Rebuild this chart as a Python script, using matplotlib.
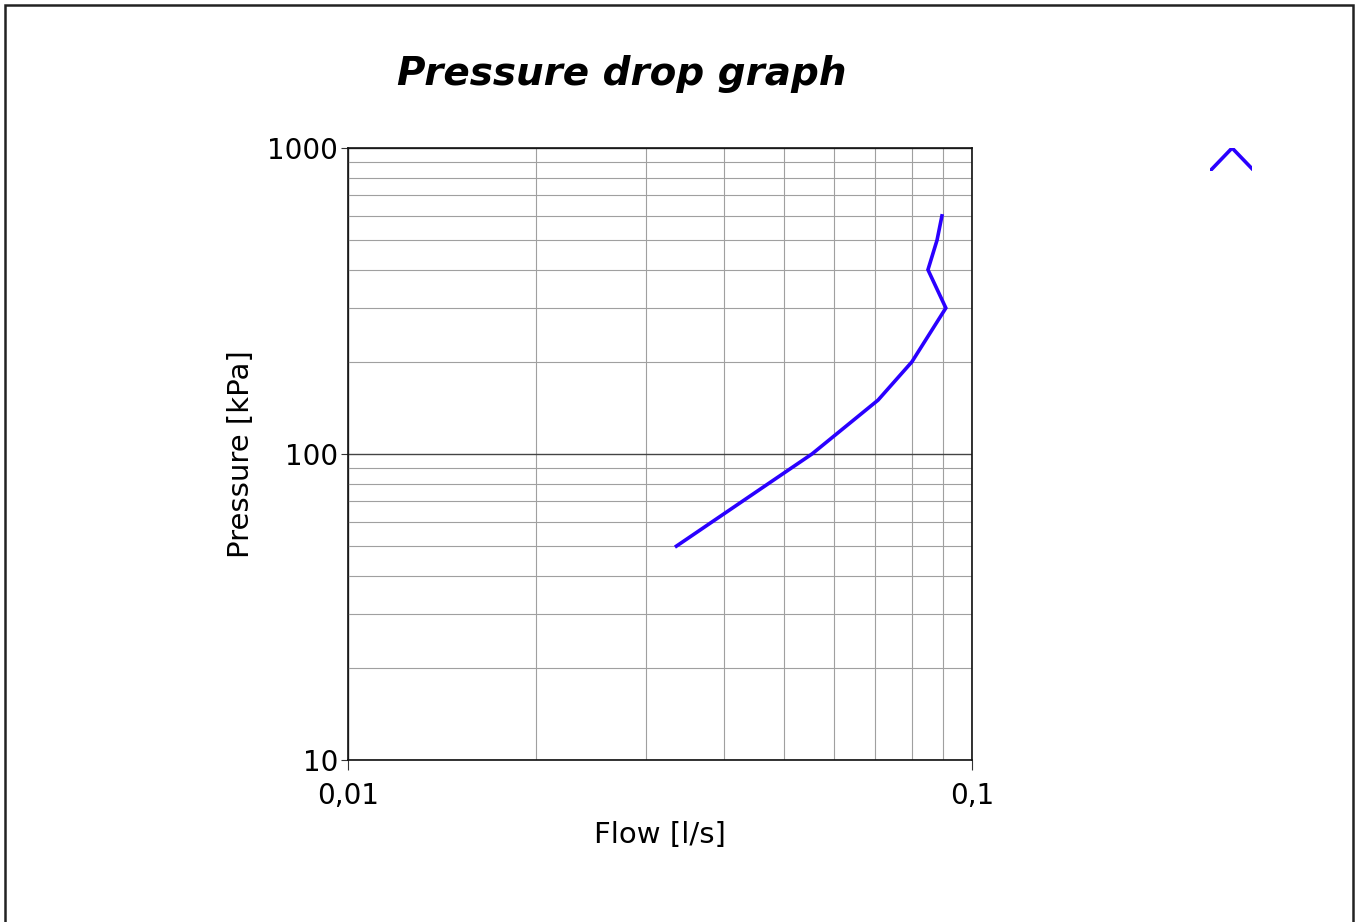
import matplotlib.pyplot as plt
import matplotlib.ticker as mticker
from matplotlib.patches import Rectangle

# Flow [l/s] vs pressure drop [kPa]
flow = [0.0336, 0.0554, 0.0707, 0.0801, 0.0908, 0.0850, 0.0879, 0.0895]
pressure = [50, 100, 150, 200, 300, 400, 500, 600]

x_ticks = [0.01, 0.1]
x_labels = ['0,01', '0,1']
y_ticks = [10, 100, 1000]
y_labels = ['10', '100', '1000']

# little legend glyph in the top right corner
legend_x = [0, 1, 1.9]
legend_y = [0, 1, 0.1]

line_color = '#2a00ff'

fig = plt.figure(figsize=(13.57, 9.22), dpi=100)
plt.rcParams['font.family'] = ['DejaVu Sans']

# axes box: x 348..972 px, y 148..760 px
W, H = 1357, 922
ax = fig.add_axes([348 / W, 1 - 760 / H, (972 - 348) / W, (760 - 148) / H])
ax.set_xscale('log')
ax.set_yscale('log')
ax.set_xlim(0.01, 0.1)
ax.set_ylim(10, 1000)

ax.plot(flow, pressure, color=line_color, linewidth=2.6, solid_joinstyle='miter')

ax.xaxis.set_major_locator(mticker.FixedLocator(x_ticks))
ax.xaxis.set_major_formatter(mticker.FixedFormatter(x_labels))
ax.yaxis.set_major_locator(mticker.FixedLocator(y_ticks))
ax.yaxis.set_major_formatter(mticker.FixedFormatter(y_labels))
ax.xaxis.set_minor_locator(mticker.LogLocator(base=10, subs=range(2, 10)))
ax.yaxis.set_minor_locator(mticker.LogLocator(base=10, subs=range(2, 10)))
ax.xaxis.set_minor_formatter(mticker.NullFormatter())
ax.yaxis.set_minor_formatter(mticker.NullFormatter())

ax.grid(which='major', color='#444444', linewidth=1.0)
ax.grid(which='minor', color='#a0a0a0', linewidth=0.8)
ax.set_axisbelow(True)

ax.tick_params(which='major', direction='out', length=5, width=0.8, color='#333333',
               labelsize=20)
ax.tick_params(axis='y', which='major', pad=2)
ax.tick_params(axis='x', which='major', length=7, pad=9)
ax.tick_params(which='minor', length=0)
for s in ax.spines.values():
    s.set_color('#111111')
    s.set_linewidth(1.2)

ax.set_xlabel('Flow [l/s]', fontsize=21, labelpad=8)
ax.set_ylabel('Pressure [kPa]', fontsize=21, labelpad=9)

fig.text(622 / W, 1 - 74 / H, 'Pressure drop graph', ha='center', va='center',
         fontsize=28, fontweight='bold', fontstyle='italic')

# legend glyph
lax = fig.add_axes([1210 / W, 1 - 171 / H, 42 / W, 23 / H])
lax.plot(legend_x, legend_y, color=line_color, linewidth=2.6)
lax.set_xlim(0, 1.9)
lax.set_ylim(0, 1)
lax.axis('off')

# outer frame (bottom edge falls outside the picture)
fig.add_artist(Rectangle((5 / W, -0.02), (1353 - 5) / W, 1.02 - 5 / H,
                         transform=fig.transFigure, fill=False,
                         edgecolor='#222222', linewidth=1.8))

fig.savefig('out.png', dpi=100)
